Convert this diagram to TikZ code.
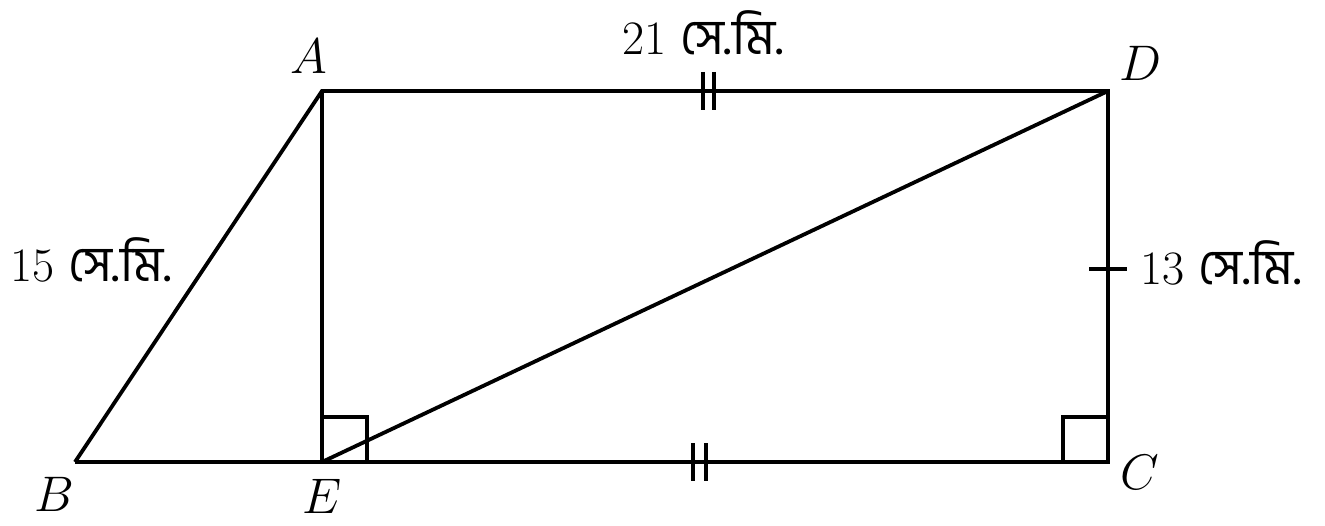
\documentclass[tikz,border=0pt]{standalone}
\usepackage{fix-cm}
\usepackage{fontspec}
\newfontfamily\bn[Script=Bengali,Scale=1.04]{Hind Siliguri}
\tikzset{
  seg/.style={line width=3.8pt, line cap=butt, line join=miter},
  tick/.style={line width=3.8pt},
  ptlabel/.style={font=\fontsize{50}{60}\selectfont, inner sep=0pt},
  lenlabel/.style={font=\fontsize{48}{58}\selectfont, inner sep=0pt, anchor=base west}
}
\begin{document}
\begin{tikzpicture}[x=1pt,y=-1pt]
\useasboundingbox (0,0) rectangle (1325,526);
\coordinate (A) at (322,91);
\coordinate (D) at (1108,91);
\coordinate (B) at (75,462);
\coordinate (E) at (322,462);
\coordinate (C) at (1108,462);
% main figure
\draw[seg] (B) -- (A) -- (D) -- (C) -- (B);
\draw[seg] (A) -- (E);
\draw[seg] (E) -- (D);
% right angle marks
\draw[seg] (322,417) -- (367,417) -- (367,462);
\draw[seg] (1063,462) -- (1063,417) -- (1108,417);
% ticks
\coordinate (t1a) at (703,72); \coordinate (t1b) at (703,110);
\coordinate (t2a) at (714,72); \coordinate (t2b) at (714,110);
\draw[tick] (t1a) -- (t1b);
\draw[tick] (t2a) -- (t2b);
\coordinate (t3a) at (693,443); \coordinate (t3b) at (693,481);
\coordinate (t4a) at (706,443); \coordinate (t4b) at (706,481);
\draw[tick] (t3a) -- (t3b);
\draw[tick] (t4a) -- (t4b);
\coordinate (t5a) at (1089,269); \coordinate (t5b) at (1127,269);
\draw[tick] (t5a) -- (t5b);
% point labels
\node[ptlabel] (lA) at (309,56) {$A$};
\node[ptlabel] (lD) at (1140,63) {$D$};
\node[ptlabel] (lB) at (54,494) {$B$};
\node[ptlabel] (lE) at (322,496) {$E$};
\node[ptlabel] (lC) at (1140,472) {$C$};
% length labels
\node[lenlabel] (l21) at (622,55) {21 {\bn সে.মি.}};
\node[lenlabel] (l15) at (10,282) {15 {\bn সে.মি.}};
\node[lenlabel] (l13) at (1140,285) {13 {\bn সে.মি.}};
\end{tikzpicture}
\end{document}
